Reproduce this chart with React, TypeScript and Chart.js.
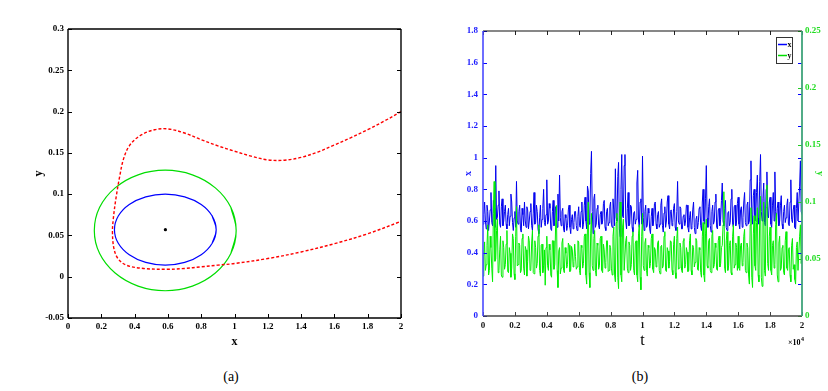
import React, { useEffect, useRef } from "react";
import { Chart, registerables } from "chart.js";
Chart.register(...registerables);

// ---------- Panel (a) data ----------
const aXTicks = [0, 0.2, 0.4, 0.6, 0.8, 1, 1.2, 1.4, 1.6, 1.8, 2];
const aYTicks = [-0.05, 0, 0.05, 0.1, 0.15, 0.2, 0.25, 0.3];

const redX = [2.0, 1.9, 1.8, 1.7, 1.6, 1.5, 1.4, 1.3, 1.2, 1.1, 1.0, 0.9, 0.8, 0.7, 0.6, 0.52, 0.434, 0.37, 0.334, 0.31, 0.288, 0.272, 0.267, 0.276, 0.3, 0.35, 0.454, 0.6, 0.7, 0.8, 0.9, 1.0, 1.2, 1.4, 1.6, 1.8, 2.0];
const redY = [0.2, 0.1885, 0.178, 0.1685, 0.1595, 0.151, 0.1445, 0.1411, 0.1415, 0.146, 0.152, 0.1585, 0.166, 0.174, 0.179, 0.178, 0.171, 0.159, 0.143, 0.121, 0.095, 0.07, 0.053, 0.034, 0.022, 0.014, 0.01, 0.009, 0.01, 0.012, 0.014, 0.016, 0.022, 0.03, 0.04, 0.052, 0.067];

const blueEllX = [0.866, 0.89, 0.866, 0.8, 0.701, 0.584, 0.467, 0.368, 0.302, 0.279, 0.302, 0.368, 0.467, 0.584, 0.701, 0.8, 0.866, 0.89, 0.866];
const blueEllY = [0.0405, 0.057, 0.0735, 0.0874, 0.0967, 0.1, 0.0967, 0.0874, 0.0735, 0.057, 0.0405, 0.0266, 0.0173, 0.014, 0.0173, 0.0266, 0.0405, 0.057, 0.0735];

const greenEllX = [0.978, 1.01, 0.978, 0.885, 0.747, 0.584, 0.421, 0.283, 0.19, 0.158, 0.19, 0.283, 0.421, 0.584, 0.747, 0.885, 0.978, 1.01, 0.978];
const greenEllY = [0.028, 0.056, 0.084, 0.1076, 0.1234, 0.129, 0.1234, 0.1076, 0.084, 0.056, 0.028, 0.0044, -0.0114, -0.017, -0.0114, 0.0044, 0.028, 0.056, 0.084];

const eqX = [0.585];
const eqY = [0.057];

// ---------- Panel (b) data ----------
const bTTicks = [0, 0.2, 0.4, 0.6, 0.8, 1, 1.2, 1.4, 1.6, 1.8, 2];
const bXTicks = [0, 0.2, 0.4, 0.6, 0.8, 1, 1.2, 1.4, 1.6, 1.8];
const bYTicks = [0, 0.05, 0.1, 0.15, 0.2, 0.25];

const xSeries = [
  0.58, 0.64, 0.72, 0.60, 0.55, 0.70, 0.66, 0.54, 0.60, 0.67, 0.78, 0.59, 0.57, 0.73, 0.68, 0.56, 0.95, 0.61, 0.62, 0.70,
  0.79, 0.58, 0.56, 0.69, 0.74, 0.57, 0.60, 0.66, 0.70, 0.58, 0.55, 0.64, 0.68, 0.57, 0.63, 0.77, 0.72, 0.59, 0.54, 0.62,
  0.66, 0.56, 0.85, 0.60, 0.58, 0.66, 0.70, 0.55, 0.53, 0.68, 0.64, 0.57, 0.72, 0.60, 0.56, 0.69, 0.67, 0.55, 0.60, 0.66,
  0.71, 0.57, 0.54, 0.65, 0.78, 0.58, 0.59, 0.70, 0.66, 0.55, 0.52, 0.62, 0.70, 0.56, 0.61, 0.68, 0.80, 0.59, 0.57, 0.64,
  0.86, 0.58, 0.60, 0.71, 0.68, 0.55, 0.54, 0.66, 0.73, 0.57, 0.58, 0.69, 0.65, 0.56, 0.77, 0.60, 0.89, 0.62, 0.57, 0.66,
  0.68, 0.55, 0.53, 0.64, 0.62, 0.54, 0.57, 0.67, 0.70, 0.56, 0.52, 0.61, 0.64, 0.55, 0.59, 0.66, 0.66, 0.57, 0.54, 0.63,
  0.69, 0.57, 0.56, 0.66, 0.72, 0.55, 0.58, 0.70, 0.75, 0.60, 0.55, 0.82, 0.79, 0.58, 0.62, 0.90, 1.04, 0.66, 0.52, 0.74,
  0.77, 0.56, 0.58, 0.68, 0.70, 0.57, 0.55, 0.64, 0.66, 0.58, 0.60, 0.71, 0.73, 0.56, 0.54, 0.66, 0.68, 0.57, 0.59, 0.69,
  0.72, 0.58, 0.56, 0.74, 0.67, 0.57, 0.93, 0.62, 0.60, 0.88, 0.97, 0.55, 0.50, 0.80, 1.02, 0.63, 0.62, 0.95, 1.02, 0.60,
  0.55, 0.68, 0.78, 0.57, 0.58, 0.70, 0.69, 0.56, 0.53, 0.65, 0.66, 0.58, 0.61, 0.84, 0.92, 0.60, 0.56, 0.72, 0.74, 0.58,
  1.01, 0.62, 0.54, 0.66, 0.70, 0.56, 0.57, 0.68, 0.65, 0.55, 0.52, 0.63, 0.68, 0.57, 0.60, 0.71, 0.72, 0.58, 0.55, 0.64,
  0.66, 0.56, 0.58, 0.70, 0.74, 0.57, 0.53, 0.65, 0.69, 0.56, 0.60, 0.72, 0.76, 0.58, 0.55, 0.66, 0.67, 0.57, 0.59, 0.68,
  0.71, 0.56, 0.54, 0.66, 0.85, 0.60, 0.58, 0.69, 0.68, 0.55, 0.55, 0.63, 0.64, 0.57, 0.60, 0.70, 0.70, 0.56, 0.53, 0.62,
  0.66, 0.55, 0.57, 0.67, 0.72, 0.56, 0.52, 0.61, 0.63, 0.55, 0.59, 0.68, 0.69, 0.57, 0.54, 0.72, 0.80, 0.60, 0.58, 0.74,
  0.95, 0.62, 0.56, 0.69, 0.74, 0.57, 0.53, 0.66, 0.70, 0.58, 0.60, 0.72, 0.77, 0.56, 0.55, 0.67, 0.68, 0.57, 0.61, 0.73,
  0.84, 0.60, 0.57, 0.68, 0.73, 0.56, 0.54, 0.65, 0.66, 0.57, 0.59, 0.74, 0.80, 0.58, 0.56, 0.69, 0.70, 0.57, 0.60, 0.71,
  0.75, 0.58, 0.55, 0.67, 0.69, 0.56, 0.62, 0.72, 0.78, 0.59, 0.57, 0.70, 0.72, 0.58, 0.60, 0.86, 0.98, 0.64, 0.58, 0.76,
  0.80, 0.60, 0.63, 0.78, 0.89, 0.62, 0.58, 0.85, 1.02, 0.66, 0.60, 0.74, 0.84, 0.59, 0.57, 0.80, 0.91, 0.63, 0.62, 0.72,
  0.75, 0.58, 0.56, 0.70, 0.78, 0.60, 0.91, 0.66, 0.58, 0.68, 0.72, 0.57, 0.60, 0.70, 0.76, 0.58, 0.55, 0.66, 0.70, 0.59,
  0.62, 0.70, 0.74, 0.58, 0.57, 0.72, 0.86, 0.61, 0.59, 0.67, 0.70, 0.56, 0.55, 0.68, 0.78, 0.60, 0.60, 0.82, 0.98, 0.66,
  0.64,
];

const ySeries = [
  0.035, 0.052, 0.065, 0.040, 0.045, 0.062, 0.080, 0.036, 0.040, 0.070, 0.060, 0.042, 0.030, 0.090, 0.118, 0.048, 0.050, 0.075, 0.085, 0.038,
  0.040, 0.058, 0.070, 0.036, 0.034, 0.066, 0.060, 0.041, 0.045, 0.063, 0.075, 0.039, 0.038, 0.060, 0.055, 0.034, 0.042, 0.072, 0.068, 0.037,
  0.032, 0.070, 0.096, 0.044, 0.045, 0.064, 0.062, 0.038, 0.040, 0.068, 0.072, 0.042, 0.036, 0.061, 0.058, 0.035, 0.048, 0.070, 0.066, 0.040,
  0.041, 0.064, 0.075, 0.038, 0.037, 0.066, 0.060, 0.042, 0.046, 0.070, 0.080, 0.040, 0.035, 0.062, 0.063, 0.038, 0.044, 0.058, 0.027, 0.060,
  0.070, 0.044, 0.040, 0.063, 0.058, 0.036, 0.034, 0.066, 0.066, 0.041, 0.045, 0.078, 0.097, 0.040, 0.025, 0.057, 0.060, 0.037, 0.042, 0.064,
  0.068, 0.040, 0.038, 0.060, 0.055, 0.042, 0.045, 0.064, 0.062, 0.039, 0.040, 0.061, 0.058, 0.043, 0.048, 0.063, 0.052, 0.041, 0.043, 0.066,
  0.065, 0.040, 0.036, 0.062, 0.060, 0.042, 0.046, 0.070, 0.072, 0.036, 0.028, 0.080, 0.100, 0.038, 0.025, 0.072, 0.090, 0.044, 0.040, 0.068,
  0.075, 0.040, 0.035, 0.064, 0.062, 0.041, 0.044, 0.068, 0.070, 0.040, 0.038, 0.063, 0.058, 0.042, 0.047, 0.066, 0.066, 0.039, 0.040, 0.062,
  0.060, 0.042, 0.036, 0.070, 0.078, 0.036, 0.030, 0.082, 0.090, 0.034, 0.024, 0.088, 0.100, 0.036, 0.030, 0.078, 0.085, 0.040, 0.040, 0.066,
  0.070, 0.042, 0.038, 0.065, 0.062, 0.040, 0.045, 0.070, 0.074, 0.040, 0.036, 0.064, 0.066, 0.036, 0.030, 0.072, 0.080, 0.034, 0.023, 0.070,
  0.090, 0.044, 0.040, 0.064, 0.068, 0.040, 0.035, 0.062, 0.060, 0.042, 0.046, 0.068, 0.072, 0.041, 0.038, 0.060, 0.058, 0.043, 0.045, 0.064,
  0.066, 0.040, 0.037, 0.061, 0.062, 0.042, 0.044, 0.070, 0.074, 0.040, 0.039, 0.060, 0.057, 0.042, 0.048, 0.066, 0.065, 0.040, 0.036, 0.063,
  0.070, 0.038, 0.033, 0.068, 0.078, 0.041, 0.042, 0.064, 0.060, 0.040, 0.038, 0.066, 0.068, 0.042, 0.045, 0.060, 0.056, 0.039, 0.040, 0.066,
  0.072, 0.040, 0.036, 0.062, 0.060, 0.043, 0.047, 0.068, 0.066, 0.041, 0.040, 0.060, 0.058, 0.038, 0.034, 0.070, 0.082, 0.036, 0.030, 0.072,
  0.085, 0.044, 0.042, 0.066, 0.068, 0.040, 0.038, 0.070, 0.075, 0.042, 0.045, 0.064, 0.060, 0.041, 0.040, 0.066, 0.070, 0.043, 0.046, 0.060,
  0.062, 0.080, 0.109, 0.042, 0.038, 0.066, 0.074, 0.040, 0.044, 0.062, 0.066, 0.038, 0.036, 0.070, 0.080, 0.042, 0.045, 0.064, 0.060, 0.040,
  0.070, 0.042, 0.040, 0.062, 0.064, 0.044, 0.047, 0.070, 0.076, 0.040, 0.038, 0.064, 0.060, 0.036, 0.028, 0.080, 0.095, 0.034, 0.025, 0.072,
  0.088, 0.044, 0.040, 0.082, 0.095, 0.036, 0.030, 0.090, 0.105, 0.034, 0.026, 0.085, 0.100, 0.040, 0.035, 0.095, 0.115, 0.046, 0.040, 0.070,
  0.078, 0.040, 0.036, 0.062, 0.066, 0.042, 0.045, 0.080, 0.090, 0.036, 0.030, 0.064, 0.070, 0.040, 0.042, 0.060, 0.062, 0.038, 0.036, 0.066,
  0.074, 0.042, 0.040, 0.058, 0.060, 0.036, 0.030, 0.062, 0.068, 0.041, 0.045, 0.032, 0.028, 0.060, 0.065, 0.040, 0.040, 0.070, 0.080, 0.046,
  0.055,
];
const tStep = 0.005; // time (×10^4) between samples

const SERIF = '"Liberation Serif", "Times New Roman", serif';
const tickFont = { family: SERIF, size: 9, weight: "bold" as const };
const fmt = (v: any) => String(+Number(v).toFixed(2));
const setTicks = (arr: number[]) => (s: any) => {
  s.ticks = arr.map((v) => ({ value: v }));
};
const TL = 4;

type Mark = [string, "left" | "right" | "top" | "bottom", string];
type Lines = { top?: [string, number]; bottom?: [string, number]; left?: [string, number]; right?: [string, number] };

const makeFrame = (id: string, lines: Lines, marks: Mark[], extra?: (c: any) => void) => ({
  id,
  afterDatasetsDraw(chart: any) {
    const { ctx, chartArea: ca } = chart;
    ctx.save();
    ctx.lineWidth = 1;
    for (const [sid, edge, color] of marks) {
      const sc = chart.scales[sid];
      ctx.strokeStyle = color;
      ctx.beginPath();
      for (const t of sc.ticks) {
        const p = Math.round(sc.getPixelForValue(t.value)) + 0.5;
        if (edge === "left") { ctx.moveTo(ca.left, p); ctx.lineTo(ca.left + TL, p); }
        if (edge === "right") { ctx.moveTo(ca.right, p); ctx.lineTo(ca.right - TL, p); }
        if (edge === "bottom") { ctx.moveTo(p, ca.bottom); ctx.lineTo(p, ca.bottom - TL); }
        if (edge === "top") { ctx.moveTo(p, ca.top); ctx.lineTo(p, ca.top + TL); }
      }
      ctx.stroke();
    }
    const seg = (k: keyof Lines, x1: number, y1: number, x2: number, y2: number) => {
      const l = lines[k];
      if (!l) return;
      ctx.strokeStyle = l[0];
      ctx.lineWidth = l[1];
      ctx.beginPath();
      ctx.moveTo(x1, y1);
      ctx.lineTo(x2, y2);
      ctx.stroke();
    };
    seg("top", ca.left, ca.top, ca.right, ca.top);
    seg("bottom", ca.left, ca.bottom, ca.right, ca.bottom);
    seg("left", ca.left, ca.top, ca.left, ca.bottom);
    seg("right", ca.right, ca.top, ca.right, ca.bottom);
    ctx.restore();
    if (extra) extra(chart);
  },
});

const pts = (xs: number[], ys: number[]) => xs.map((x, i) => ({ x, y: ys[i] }));

function buildA(canvas: HTMLCanvasElement) {
  return new Chart(canvas, {
    type: "scatter",
    data: {
      datasets: [
        { data: pts(eqX, eqY), pointRadius: 1.6, pointBackgroundColor: "#000", pointBorderWidth: 0, showLine: false },
        { data: pts(redX, redY), showLine: true, borderColor: "#ff0000", borderWidth: 1.4, borderDash: [3, 2], pointRadius: 0, tension: 0.35 },
        { data: pts(blueEllX, blueEllY), showLine: true, borderColor: "#0000ff", borderWidth: 1.2, pointRadius: 0, tension: 0.4 },
        { data: pts(greenEllX, greenEllY), showLine: true, borderColor: "#00dd00", borderWidth: 1.2, pointRadius: 0, tension: 0.4 },
      ] as any,
    },
    options: {
      animation: false,
      responsive: false,
      maintainAspectRatio: false,
      layout: { padding: { top: 29, right: 19, left: 0, bottom: 0 } },
      plugins: { legend: { display: false }, tooltip: { enabled: false } },
      scales: {
        x: {
          type: "linear", min: 0, max: 2,
          afterBuildTicks: setTicks(aXTicks),
          afterFit: (s: any) => { s.height = 42; },
          grid: { display: false, drawTicks: false },
          border: { display: false },
          ticks: { padding: 3, font: tickFont, color: "#000", callback: fmt, maxRotation: 0, autoSkip: false },
          title: { display: true, text: "x", color: "#000", font: { family: SERIF, size: 12, weight: "bold" }, padding: { top: 0, bottom: 11 } },
        },
        y: {
          type: "linear", min: -0.05, max: 0.3,
          afterBuildTicks: setTicks(aYTicks),
          afterFit: (s: any) => { s.width = 68; },
          grid: { display: false, drawTicks: false },
          border: { display: false },
          ticks: { padding: 4, font: tickFont, color: "#000", callback: fmt, autoSkip: false },
          title: { display: true, text: "y", color: "#000", font: { family: SERIF, size: 12, weight: "bold" }, padding: { top: 32, bottom: 0 } },
        },
      } as any,
    },
    plugins: [
      makeFrame("frameA", { top: ["#000", 1.4], bottom: ["#000", 1.4], left: ["#000", 1.4], right: ["#000", 1.4] }, [
        ["x", "bottom", "#000"],
        ["y", "left", "#000"],
        ["y", "right", "#000"],
      ]),
    ] as any,
  });
}

function buildB(canvas: HTMLCanvasElement) {
  const tVals = xSeries.map((_, i) => i * tStep);
  const drawExtras = (chart: any) => {
    const { ctx, chartArea: ca } = chart;
    ctx.save();
    // legend box
    const bx = ca.right - 26, by = ca.top + 6, bw = 16, bh = 26;
    ctx.fillStyle = "#fff";
    ctx.fillRect(bx, by, bw, bh);
    ctx.strokeStyle = "#333";
    ctx.lineWidth = 1;
    ctx.strokeRect(bx + 0.5, by + 0.5, bw, bh);
    ctx.lineWidth = 1.5;
    ctx.strokeStyle = "#0000ff";
    ctx.beginPath(); ctx.moveTo(bx + 2, by + 7.5); ctx.lineTo(bx + 11, by + 7.5); ctx.stroke();
    ctx.strokeStyle = "#00dd00";
    ctx.beginPath(); ctx.moveTo(bx + 2, by + 18.5); ctx.lineTo(bx + 11, by + 18.5); ctx.stroke();
    ctx.fillStyle = "#000";
    ctx.font = `bold 8px ${SERIF}`;
    ctx.textBaseline = "middle";
    ctx.textAlign = "left";
    ctx.fillText("x", bx + 11.5, by + 7.5);
    ctx.fillText("y", bx + 11.5, by + 18.5);
    // exponent label
    ctx.font = `bold 8px ${SERIF}`;
    ctx.textBaseline = "alphabetic";
    ctx.fillText("\u00d710", ca.right - 14, ca.bottom + 29);
    ctx.font = `bold 6px ${SERIF}`;
    ctx.fillText("4", ca.right - 1, ca.bottom + 25);
    ctx.restore();
  };
  return new Chart(canvas, {
    type: "line",
    data: {
      datasets: [
        { label: "y", data: pts(tVals, ySeries), yAxisID: "y1", borderColor: "#00ee00", borderWidth: 1, pointRadius: 0, tension: 0, order: 0 },
        { label: "x", data: pts(tVals, xSeries), yAxisID: "y", borderColor: "#0000ee", borderWidth: 1, pointRadius: 0, tension: 0, order: 1 },
      ] as any,
    },
    options: {
      animation: false,
      responsive: false,
      maintainAspectRatio: false,
      layout: { padding: { top: 31, right: 0, left: 0, bottom: 0 } },
      plugins: { legend: { display: false }, tooltip: { enabled: false } },
      scales: {
        x: {
          type: "linear", min: 0, max: 2,
          afterBuildTicks: setTicks(bTTicks),
          afterFit: (s: any) => { s.height = 44; },
          grid: { display: false, drawTicks: false },
          border: { display: false },
          ticks: { padding: 4, font: tickFont, color: "#111", callback: fmt, maxRotation: 0, autoSkip: false },
          title: { display: true, text: "t", color: "#000", font: { family: SERIF, size: 16 }, padding: { top: 0, bottom: 10 } },
        },
        y: {
          type: "linear", position: "left", min: 0, max: 1.8,
          afterBuildTicks: setTicks(bXTicks),
          afterFit: (s: any) => { s.width = 63; },
          grid: { display: false, drawTicks: false },
          border: { display: false },
          ticks: { padding: 5, font: tickFont, color: "#1a1aff", callback: fmt, autoSkip: false },
          title: { display: true, text: "x", color: "#1a1aff", font: { family: SERIF, size: 10, weight: "bold" }, padding: { top: 42, bottom: 0 } },
        },
        y1: {
          type: "linear", position: "right", min: 0, max: 0.25,
          afterBuildTicks: setTicks(bYTicks),
          afterFit: (s: any) => { s.width = 26; },
          grid: { display: false, drawTicks: false },
          border: { display: false },
          ticks: { padding: 3, font: tickFont, color: "#22dd22", callback: fmt, autoSkip: false },
          title: { display: true, text: "y", color: "#22dd22", font: { family: SERIF, size: 10, weight: "bold" }, padding: { top: 2, bottom: 0 } },
        },
      } as any,
    },
    plugins: [
      makeFrame(
        "frameB",
        { top: ["#111", 1.2], bottom: ["#444", 1.6], left: ["#4a4aff", 1.6], right: ["#3fa37a", 1.8] },
        [
          ["x", "bottom", "#444"],
          ["x", "top", "#222"],
          ["y", "left", "#0000ff"],
          ["y", "right", "#0000ff"],
          ["y1", "right", "#22cc22"],
        ],
        drawExtras
      ),
    ] as any,
  });
}

export default function App() {
  const refA = useRef<HTMLCanvasElement>(null);
  const refB = useRef<HTMLCanvasElement>(null);
  useEffect(() => {
    const a = buildA(refA.current!);
    const b = buildB(refB.current!);
    return () => {
      a.destroy();
      b.destroy();
    };
  }, []);
  const cap: React.CSSProperties = {
    position: "absolute", top: 369, width: 40, textAlign: "center",
    fontFamily: SERIF, fontSize: 14, lineHeight: "16px", color: "#000",
  };
  return (
    <div style={{ position: "absolute", left: 0, top: 0, width: 828, height: 391, background: "#fff", overflow: "hidden" }}>
      <canvas ref={refA} width={420} height={360} style={{ position: "absolute", left: 0, top: 0 }} />
      <canvas ref={refB} width={408} height={360} style={{ position: "absolute", left: 420, top: 0 }} />
      <div style={{ ...cap, left: 211 }}>(a)</div>
      <div style={{ ...cap, left: 620 }}>(b)</div>
    </div>
  );
}
